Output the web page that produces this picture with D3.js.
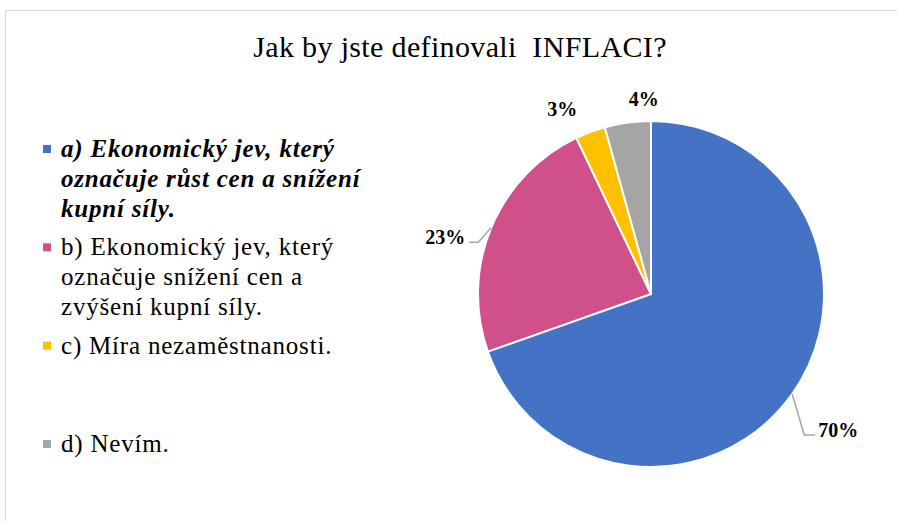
<!DOCTYPE html>
<html>
<head>
<meta charset="utf-8">
<script src="https://cdn.jsdelivr.net/npm/d3@7"></script>
<style>
  body { margin: 0; background: #fff; }
  svg { display: block; }
</style>
</head>
<body>
<svg id="chart" width="897" height="521"></svg>
<script>
const title = 'Jak by jste definovali\u00A0 INFLACI?';
const categories = ['a', 'b', 'c', 'd'];
const legendLines = [
  ['a) Ekonomický jev, který', 'označuje růst cen a snížení', 'kupní síly.'],
  ['b) Ekonomický jev, který', 'označuje snížení cen a', 'zvýšení kupní síly.'],
  ['c) Míra nezaměstnanosti.'],
  ['d) Nevím.']
];
const values = [69.6, 23.3, 2.8, 4.3];
const colors = ['#4472C4', '#D0508A', '#FFC000', '#A5A5A5'];

const svg = d3.select('#chart');
const font = '"Liberation Serif", "Times New Roman", serif';

// chart area border
svg.append('rect')
    .attr('x', 5.5).attr('y', 10.5)
    .attr('width', 1000).attr('height', 600)
    .attr('fill', 'none').attr('stroke', '#d9d9d9');

svg.append('text')
    .attr('x', 460).attr('y', 57)
    .attr('text-anchor', 'middle')
    .style('font-family', font).style('font-size', '30px')
    .style('letter-spacing', '0.35px')
    .attr('fill', '#000')
    .text(title);

// pie
const cx = 651, cy = 294, R = 173;
const pie = d3.pie().sort(null).value(d => d);
const arcs = pie(values);
const arc = d3.arc().innerRadius(0).outerRadius(R);
const g = svg.append('g').attr('transform', 'translate(' + cx + ',' + cy + ')');

g.selectAll('path')
    .data(arcs)
    .enter().append('path')
    .attr('d', arc)
    .attr('fill', (d, i) => colors[i])
    .attr('stroke', '#fff')
    .attr('stroke-width', 2);

// data labels, offsets from the slice edge at mid angle
const labelNudge = [
  {dx: 26, dy: 43, anchor: 'start', leader: [[12, 41], [23, 41]]},
  {dx: -26, dy: 16, anchor: 'end', leader: [[-13, 14.5], [-22, 14.5]]},
  {dx: -28, dy: -16, anchor: 'middle', leader: null},
  {dx: 16, dy: -17, anchor: 'middle', leader: null}
];

arcs.forEach(function(d, i) {
  const mid = (d.startAngle + d.endAngle) / 2;
  const px = R * Math.sin(mid);
  const py = -R * Math.cos(mid);
  const n = labelNudge[i];
  if (n.leader) {
    const pts = [[px, py]].concat(n.leader.map(p => [px + p[0], py + p[1]]));
    g.append('path')
        .attr('d', d3.line()(pts))
        .attr('fill', 'none')
        .attr('stroke', '#a6a6a6')
        .attr('stroke-width', 1.5);
  }
  g.append('text')
      .attr('x', px + n.dx).attr('y', py + n.dy)
      .attr('text-anchor', n.anchor)
      .style('font-family', font).style('font-size', '20px')
      .style('font-weight', 'bold')
      .attr('fill', '#000')
      .text(Math.round(values[i] / d3.sum(values) * 100) + '%');
});

// legend
const ly = d3.scalePoint().domain(categories).range([157, 452]);
const lineH = 30;
const legend = svg.append('g');
categories.forEach(function(c, i) {
  const y0 = ly(c);
  legend.append('rect')
      .attr('x', 43).attr('y', y0 - 12)
      .attr('width', 8).attr('height', 8)
      .attr('fill', colors[i]);
  const t = legend.append('text')
      .style('font-family', font).style('font-size', '25px')
      .style('letter-spacing', '0.8px')
      .attr('fill', '#000');
  if (i === 0) t.style('font-weight', 'bold').style('font-style', 'italic');
  legendLines[i].forEach(function(line, j) {
    t.append('tspan').attr('x', 61).attr('y', y0 + j * lineH).text(line);
  });
});
</script>
</body>
</html>
